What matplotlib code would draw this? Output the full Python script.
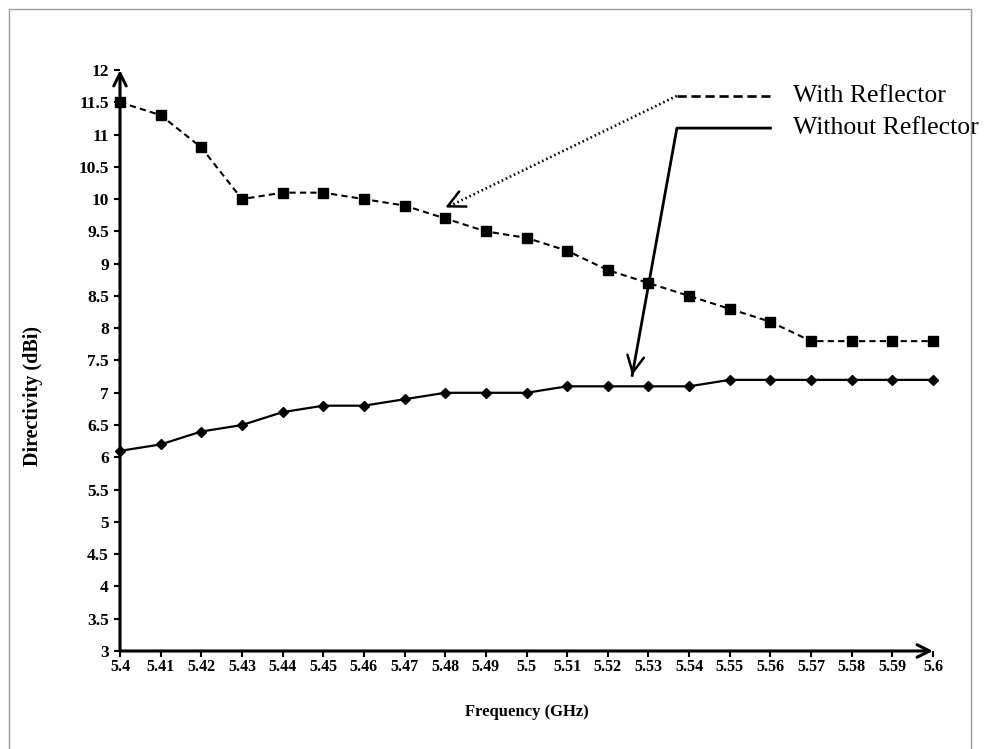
import matplotlib
matplotlib.use("Agg")
import matplotlib.pyplot as plt
from matplotlib.patches import Rectangle
from matplotlib.ticker import FixedLocator

# Frequency sweep (GHz) and simulated directivity (dBi)
freq_ghz = [5.40, 5.41, 5.42, 5.43, 5.44, 5.45, 5.46, 5.47, 5.48, 5.49, 5.50,
            5.51, 5.52, 5.53, 5.54, 5.55, 5.56, 5.57, 5.58, 5.59, 5.60]
with_reflector = [11.5, 11.3, 10.8, 10.0, 10.1, 10.1, 10.0, 9.9, 9.7, 9.5, 9.4,
                  9.2, 8.9, 8.7, 8.5, 8.3, 8.1, 7.8, 7.8, 7.8, 7.8]
without_reflector = [6.1, 6.2, 6.4, 6.5, 6.7, 6.8, 6.8, 6.9, 7.0, 7.0, 7.0,
                     7.1, 7.1, 7.1, 7.1, 7.2, 7.2, 7.2, 7.2, 7.2, 7.2]

x_tick_labels = ["5.4", "5.41", "5.42", "5.43", "5.44", "5.45", "5.46", "5.47",
                 "5.48", "5.49", "5.5", "5.51", "5.52", "5.53", "5.54", "5.55",
                 "5.56", "5.57", "5.58", "5.59", "5.6"]
y_ticks = [3, 3.5, 4, 4.5, 5, 5.5, 6, 6.5, 7, 7.5, 8, 8.5, 9, 9.5, 10, 10.5,
           11, 11.5, 12]
y_tick_labels = ["3", "3.5", "4", "4.5", "5", "5.5", "6", "6.5", "7", "7.5",
                 "8", "8.5", "9", "9.5", "10", "10.5", "11", "11.5", "12"]

series_labels = ["With Reflector", "Without Reflector"]

SERIF = ["Liberation Serif", "DejaVu Serif"]

W, H = 992, 749
fig = plt.figure(figsize=(W / 100, H / 100), dpi=100)
fig.patch.set_facecolor("white")

# thin grey frame around the chart area
fig.add_artist(Rectangle((9 / W, -0.01), (971 - 9) / W, 1 - 9 / H + 0.01,
                         transform=fig.transFigure, fill=False,
                         edgecolor="#9a9a9a", lw=1.0))

ax = fig.add_axes([120 / W, 1 - 651 / H, (933 - 120) / W, (651 - 70) / H])
ax.set_xlim(5.4, 5.6)
ax.set_ylim(3, 12)

# data series
ax.plot(freq_ghz, with_reflector, color="black", lw=1.5, dashes=(3, 2),
        marker="s", markersize=7, clip_on=False, zorder=3)
ax.plot(freq_ghz, without_reflector, color="black", lw=1.6,
        marker="D", markersize=5, clip_on=False, zorder=3)

# axes drawn as arrows
for s in ax.spines.values():
    s.set_visible(False)
ax.annotate("", xy=(1, 0), xytext=(0, 0), xycoords="axes fraction",
            arrowprops=dict(arrowstyle="->,head_length=0.6,head_width=0.3",
                            lw=2.2, color="black", shrinkA=0, shrinkB=0,
                            mutation_scale=15), zorder=4)
ax.annotate("", xy=(0, 1), xytext=(0, 0), xycoords="axes fraction",
            arrowprops=dict(arrowstyle="->,head_length=0.6,head_width=0.3",
                            lw=2.2, color="black", shrinkA=0, shrinkB=0,
                            mutation_scale=15), zorder=4)

ax.xaxis.set_major_locator(FixedLocator(freq_ghz))
ax.set_xticklabels(x_tick_labels)
ax.yaxis.set_major_locator(FixedLocator(y_ticks))
ax.set_yticklabels(y_tick_labels)
ax.tick_params(axis="x", direction="out", length=4, width=1.5, pad=2)
ax.tick_params(axis="y", direction="out", length=4, width=1.5, pad=4)
for lab in ax.get_xticklabels():
    lab.set_fontfamily(SERIF)
    lab.set_fontweight("bold")
    lab.set_fontsize(11.5)
for lab in ax.get_yticklabels():
    lab.set_fontfamily(SERIF)
    lab.set_fontweight("bold")
    lab.set_fontsize(12.5)

ax.set_xlabel("Frequency (GHz)", family=SERIF, fontweight="bold", fontsize=12)
ax.set_ylabel("Directivity (dBi)", family=SERIF, fontweight="bold", fontsize=14.5)
ax.xaxis.set_label_coords(0.5, -0.091)
ax.yaxis.set_label_coords(-0.095, 0.439)

# key: line samples with leader arrows pointing to each curve
key_x0, key_x1, text_x = 5.537, 5.560, 5.5655
key_y = [11.6, 11.1]
arrow_tips = [(5.480, 9.87), (5.526, 7.27)]

# dotted leader + dashed sample for the first series
ax.plot([arrow_tips[0][0] + 0.001, key_x0], [arrow_tips[0][1] + 0.02, key_y[0]],
        color="black", lw=1.9, linestyle=(0, (0.6, 1.1)), clip_on=False)
ax.plot([key_x0, key_x1], [key_y[0], key_y[0]], color="black", lw=1.9,
        dashes=(3.5, 1.8), clip_on=False)
# solid leader + sample for the second series
ax.plot([arrow_tips[1][0], key_x0, key_x1],
        [arrow_tips[1][1], key_y[1], key_y[1]], color="black", lw=2.0,
        clip_on=False)

for (tx, ty), (sx, sy) in zip(arrow_tips, [(key_x0, key_y[0]), (key_x0, key_y[1])]):
    fx = tx + (sx - tx) * 0.02
    fy = ty + (sy - ty) * 0.02
    ax.annotate("", xy=(tx, ty), xytext=(fx, fy),
                arrowprops=dict(arrowstyle="->,head_length=0.6,head_width=0.3",
                                lw=1.8, color="black", shrinkA=0, shrinkB=0,
                                mutation_scale=20),
                annotation_clip=False)

for lbl, yk in zip(series_labels, key_y):
    ax.text(text_x, yk, lbl, family=SERIF, fontsize=18.5, va="center",
            ha="left", clip_on=False)

fig.savefig("out.png", dpi=100)
